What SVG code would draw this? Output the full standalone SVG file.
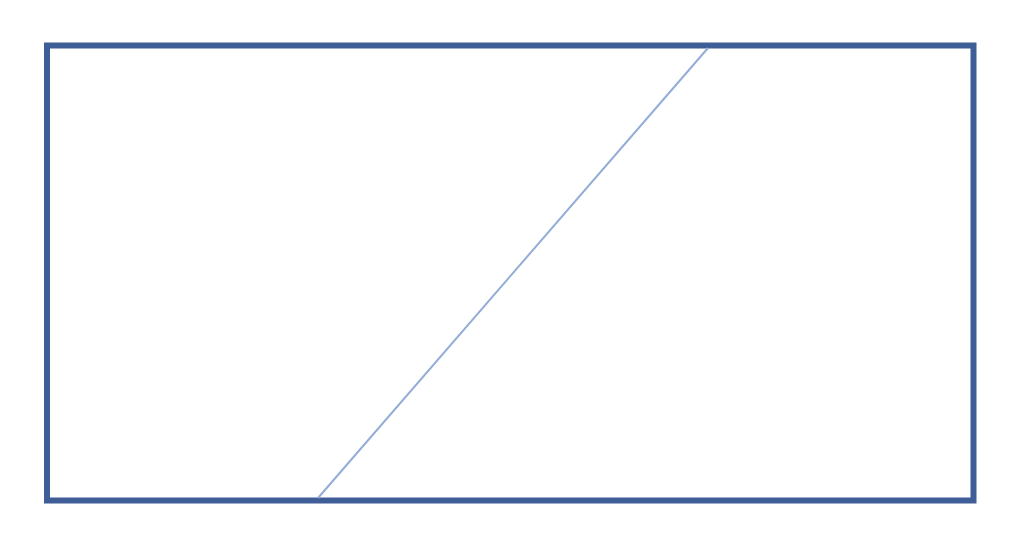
<svg xmlns="http://www.w3.org/2000/svg" width="1024" height="547" viewBox="0 0 1024 547">
<style>
.frame{fill:none;stroke:#3f5d96;stroke-width:6}
.diag{stroke:#94acd8;stroke-width:2;fill:none}
</style>
<rect width="1024" height="547" fill="#ffffff"/>
<g id="frame"><rect class="frame" x="47" y="45.5" width="926.5" height="455"/></g>
<g id="connectors"><line class="diag" x1="708" y1="48" x2="318" y2="498"/></g>
</svg>
